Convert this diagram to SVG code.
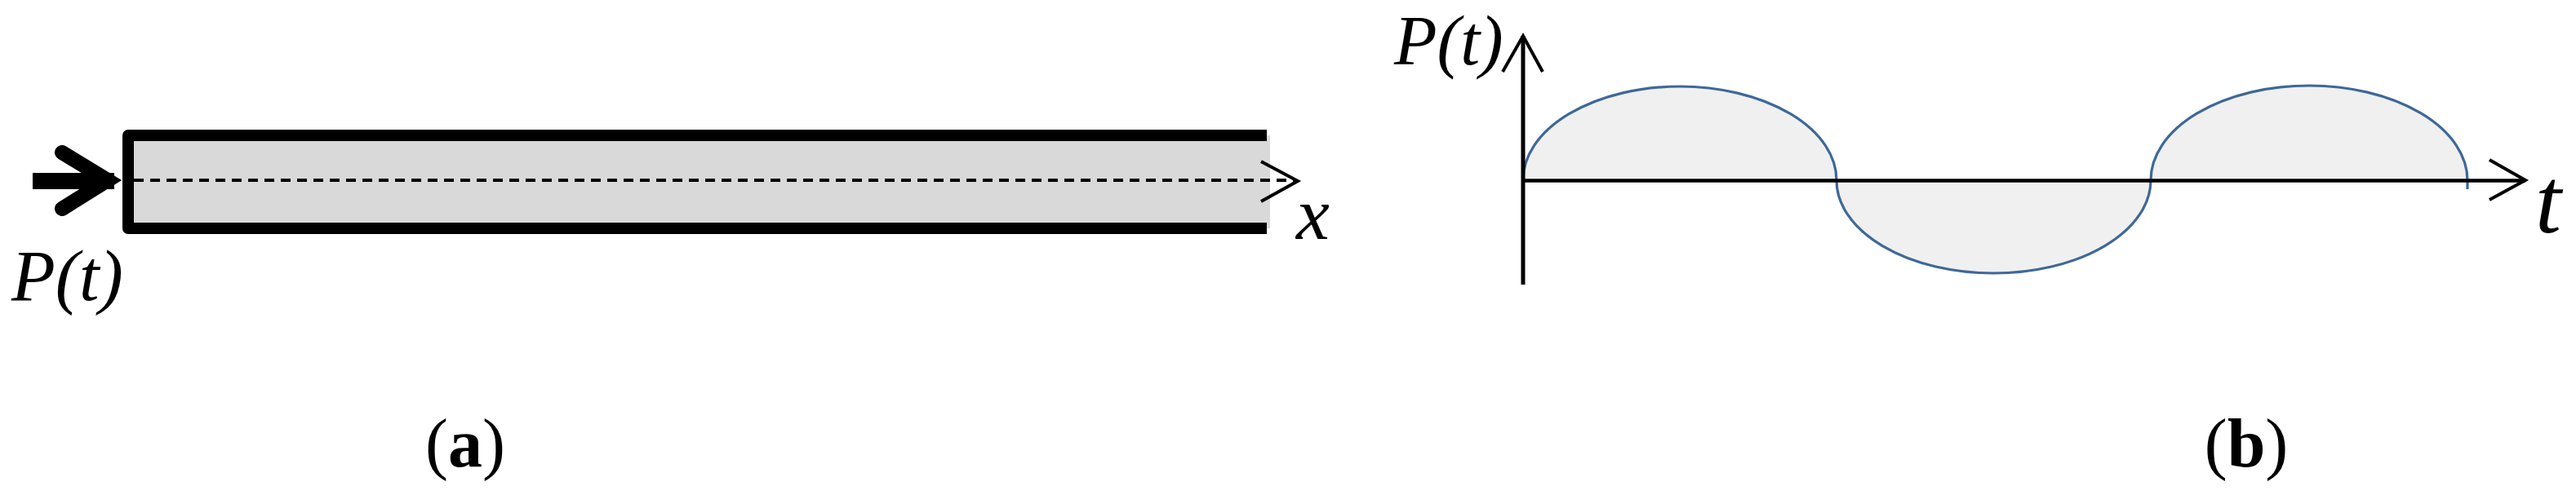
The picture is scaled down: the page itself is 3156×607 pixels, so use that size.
<svg xmlns="http://www.w3.org/2000/svg" width="3156" height="607" viewBox="0 0 3156 607">
<style>
.lbl{font-family:"Liberation Serif","Times New Roman",serif;font-style:italic;fill:#000}
.cap{font-family:"Liberation Serif","Times New Roman",serif;fill:#000}
.chev{fill:none;stroke:#000;stroke-width:4;stroke-linecap:butt;stroke-linejoin:miter}
.lobe{fill:#F0F0F0;stroke:none}
.lobeline{fill:none;stroke:#3E6898;stroke-width:3.2}
</style>
<rect width="3156" height="607" fill="#fff"/>
<g id="rod">
<rect x="157" y="166" width="1399" height="114" fill="#D9D9D9"/>
<path d="M1552,166 H157 V280 H1552" fill="none" stroke="#000" stroke-width="14" stroke-linejoin="round"/>
</g>
<g id="lobes">
<path class="lobe" d="M1866,221 A192,115 0 0 1 2250,221 Z"/>
<path class="lobe" d="M2250,221 A192.5,114 0 0 0 2635,221 Z"/>
<path class="lobe" d="M2635,221 A194,116 0 0 1 3023,221 Z"/>
<path class="lobeline" d="M1866,221 A192,115 0 0 1 2250,221 A192.5,114 0 0 0 2635,221 A194,116 0 0 1 3023,221 L3023,232"/>
</g>
<g id="connectors">
<rect x="40" y="212" width="100" height="20" fill="#000"/>
<polyline points="76,187 132,221 76,256" fill="none" stroke="#000" stroke-width="18" stroke-linecap="round" stroke-linejoin="miter"/>
<line x1="164" y1="221" x2="1588" y2="221" stroke="#000" stroke-width="4" stroke-dasharray="12,8"/>
<polyline class="chev" points="1545,198 1590,222 1545,247"/>
<line x1="1866" y1="44" x2="1866" y2="349" stroke="#000" stroke-width="5"/>
<polyline class="chev" points="1841,88 1866,44 1890,88"/>
<line x1="1866" y1="221.5" x2="3094" y2="221.5" stroke="#000" stroke-width="4.5"/>
<polyline class="chev" points="3050,196 3094,221 3050,245"/>
</g>
<g id="labels">
<text class="lbl" x="14" y="368" font-size="88">P(t)</text>
<text class="lbl" x="1588" y="293" font-size="92">x</text>
<text class="lbl" x="1708" y="79" font-size="86">P(t)</text>
<text class="lbl" x="3106" y="285" font-size="115">t</text>
<text class="cap" x="570" y="572" font-size="84" text-anchor="middle">(<tspan font-weight="bold">a</tspan>)</text>
<text class="cap" x="2752" y="572" font-size="84" text-anchor="middle">(<tspan font-weight="bold">b</tspan>)</text>
</g>
</svg>
